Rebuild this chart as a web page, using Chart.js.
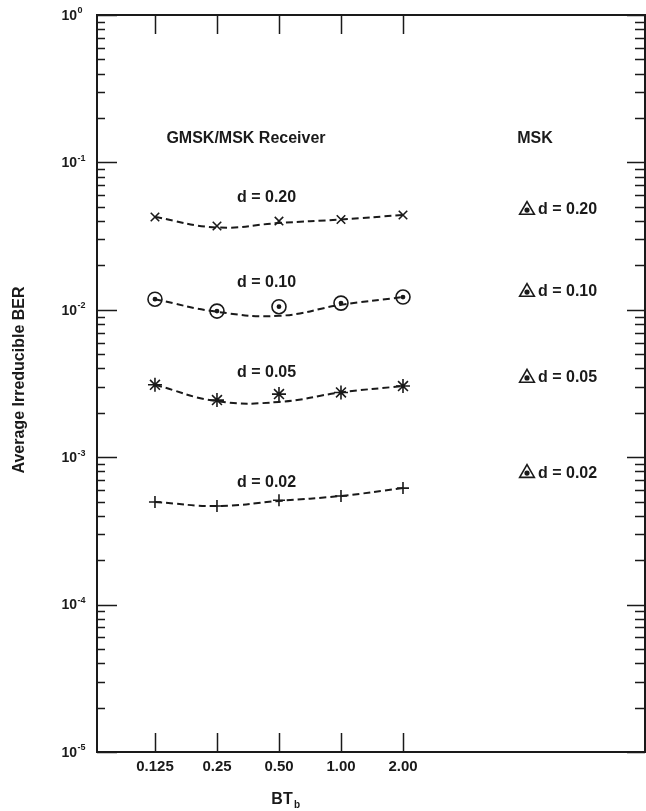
<!DOCTYPE html>
<html>
<head>
<meta charset="utf-8">
<script src="https://cdn.jsdelivr.net/npm/chart.js@4.4.1/dist/chart.umd.min.js"></script>
<style>
  html, body { margin: 0; padding: 0; background: #fff; }
</style>
</head>
<body>
<canvas id="c" width="646" height="811"></canvas>
<script>
// BT_b categories, placed at index positions on the x axis
var btLabels = ["0.125", "0.25", "0.50", "1.00", "2.00"];
var btIndex = [0, 1, 2, 3, 4];

// plotted points, GMSK/MSK receiver
var ber20 = [0.0426, 0.0370, 0.0400, 0.0410, 0.0440];
var ber10 = [0.0118, 0.0098, 0.0105, 0.0111, 0.0122];
var ber05 = [0.00310, 0.00244, 0.00268, 0.00275, 0.00304];
var ber02 = [0.000497, 0.000467, 0.000510, 0.000546, 0.000617];

// dashed curves drawn through them
var fit20 = [0.0426, 0.0362, 0.0388, 0.0410, 0.0440];
var fit10 = [0.0118, 0.0097, 0.0091, 0.0108, 0.0122];
var fit05 = [0.00310, 0.00240, 0.00237, 0.00275, 0.00304];
var fit02 = [0.000497, 0.000467, 0.000505, 0.000546, 0.000617];

// MSK single points
var mskX = 6;
var mskBer = [0.0475, 0.0132, 0.00345, 0.00078];
var dNames = ["d = 0.20", "d = 0.10", "d = 0.05", "d = 0.02"];

// where the curve names sit (x index, BER)
var curveLabelAt = [[1.8, 0.0574], [1.8, 0.0152], [1.8, 0.00373], [1.8, 0.000668]];

var INK = "#1a1a1a";
var FONT = "'Liberation Sans', Arial, sans-serif";

function pts(ys) {
  return btIndex.map(function (x, i) { return { x: x, y: ys[i] }; });
}
function mskPts() {
  return mskBer.map(function (y) { return { x: mskX, y: y }; });
}

function fitSet(ys) {
  return {
    data: pts(ys),
    borderColor: INK,
    borderWidth: 2,
    borderDash: [7, 4],
    pointRadius: 0,
    tension: 0.45,
    fill: false
  };
}
function markSet(ys, style, r, bg) {
  return {
    data: ys,
    showLine: false,
    pointStyle: style,
    pointRadius: r,
    pointBorderWidth: 1.6,
    pointBorderColor: INK,
    pointBackgroundColor: bg || "rgba(0,0,0,0)"
  };
}

var frame = {
  id: "frame",
  beforeDatasetsDraw: function (chart) {
    var ctx = chart.ctx, a = chart.chartArea;
    var xs = chart.scales.x, ys = chart.scales.y;
    ctx.save();
    ctx.strokeStyle = INK;
    ctx.lineWidth = 2;
    ctx.strokeRect(a.left, a.top, a.right - a.left, a.bottom - a.top);
    ctx.lineWidth = 1.5;
    ctx.beginPath();
    for (var e = -5; e <= 0; e++) {
      for (var k = 1; k <= 9; k++) {
        if (e === 0 && k > 1) break;
        var py = Math.round(ys.getPixelForValue(k * Math.pow(10, e))) + 0.5;
        var lenL = k === 1 ? 20 : 8;
        var lenR = k === 1 ? 18 : 10;
        ctx.moveTo(a.left, py); ctx.lineTo(a.left + lenL, py);
        ctx.moveTo(a.right, py); ctx.lineTo(a.right - lenR, py);
      }
    }
    btIndex.forEach(function (v) {
      var px = Math.round(xs.getPixelForValue(v)) + 0.5;
      ctx.moveTo(px, a.top); ctx.lineTo(px, a.top + 19);
      ctx.moveTo(px, a.bottom); ctx.lineTo(px, a.bottom - 19);
    });
    ctx.stroke();
    ctx.restore();
  },
  afterDraw: function (chart) {
    var ctx = chart.ctx, a = chart.chartArea;
    var xs = chart.scales.x, ys = chart.scales.y;
    ctx.save();
    ctx.fillStyle = INK;
    ctx.textBaseline = "middle";

    // y tick labels
    for (var e = -5; e <= 0; e++) {
      var py = ys.getPixelForValue(Math.pow(10, e));
      ctx.font = "bold 14px " + FONT;
      ctx.textAlign = "right";
      ctx.fillText("10", 77, py + 1);
      ctx.font = "bold 9px " + FONT;
      ctx.textAlign = "left";
      ctx.fillText(e === 0 ? "0" : "-" + (-e), 77.5, py - 4);
    }

    // x tick labels
    ctx.font = "bold 15px " + FONT;
    ctx.textAlign = "center";
    btIndex.forEach(function (v, i) {
      ctx.fillText(btLabels[i], xs.getPixelForValue(v), 767);
    });

    // axis titles
    ctx.font = "bold 16px " + FONT;
    ctx.fillText("BT", 282, 800);
    ctx.font = "bold 10px " + FONT;
    ctx.fillText("b", 297, 805);

    ctx.save();
    ctx.translate(20, 380);
    ctx.rotate(-Math.PI / 2);
    ctx.font = "bold 16px " + FONT;
    ctx.fillText("Average Irreducible BER", 0, 0);
    ctx.restore();

    // headings
    ctx.font = "bold 16px " + FONT;
    ctx.fillText("GMSK/MSK Receiver", 246, 139);
    ctx.fillText("MSK", 535, 139);

    // curve names
    curveLabelAt.forEach(function (p, i) {
      ctx.fillText(dNames[i], xs.getPixelForValue(p[0]), ys.getPixelForValue(p[1]));
    });

    // MSK names
    ctx.textAlign = "left";
    mskBer.forEach(function (v, i) {
      ctx.fillText(dNames[i], xs.getPixelForValue(mskX) + 11, ys.getPixelForValue(v));
    });
    ctx.restore();
  }
};

new Chart(document.getElementById("c"), {
  type: "line",
  data: {
    datasets: [
      fitSet(fit20), fitSet(fit10), fitSet(fit05), fitSet(fit02),
      markSet(pts(ber20), "crossRot", 6),
      markSet(pts(ber10), "circle", 7),
      markSet(pts(ber10), "circle", 1.6, INK),
      markSet(pts(ber05), "star", 7),
      markSet(pts(ber02), "cross", 6),
      markSet(mskPts(), "triangle", 8.5),
      markSet(mskPts(), "circle", 1.8, INK)
    ]
  },
  options: {
    responsive: false,
    animation: false,
    events: [],
    layout: { autoPadding: false, padding: { left: 97, right: 1, top: 15, bottom: 59 } },
    plugins: { legend: { display: false }, tooltip: { enabled: false } },
    scales: {
      x: { type: "linear", display: false, min: -0.935, max: 7.903 },
      y: { type: "logarithmic", display: false, min: 1e-5, max: 1 }
    }
  },
  plugins: [frame]
});
</script>
</body>
</html>
